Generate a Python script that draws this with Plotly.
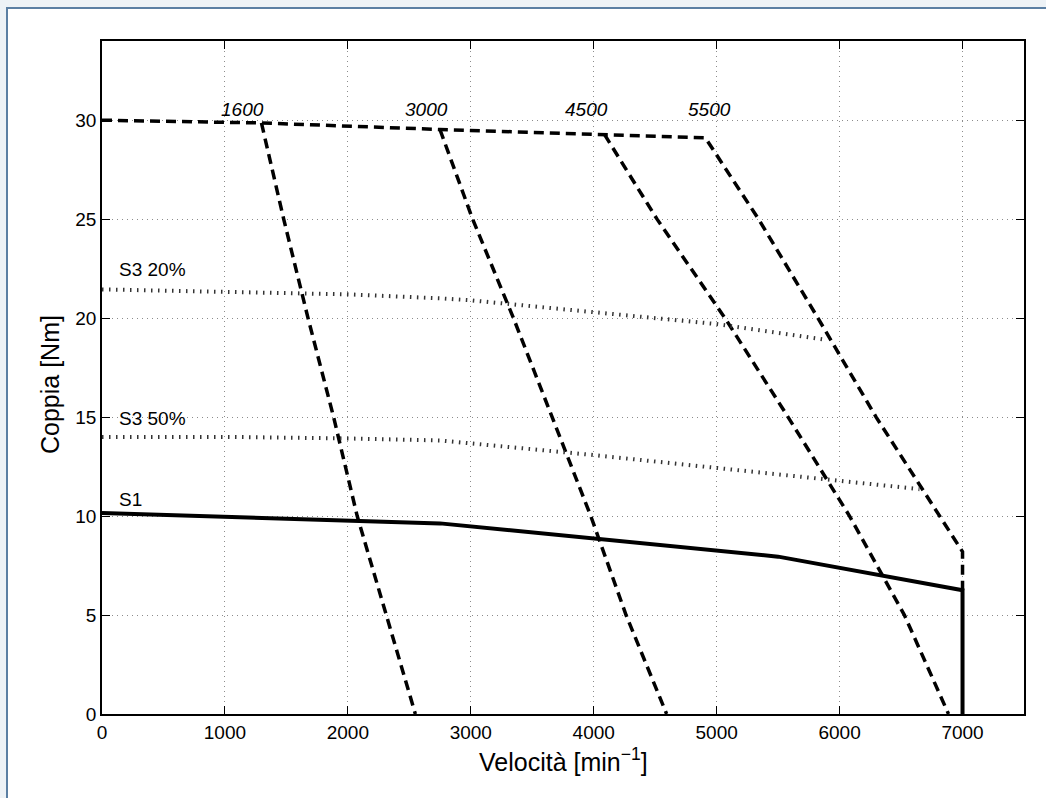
import plotly.graph_objects as go

# ---------------- data ----------------
# Top envelope (dashed): flat part through the knees, then the 5500 curve down to 7000
env_speed = [0, 1297, 2749, 4087, 4908, 5341, 5824, 6297, 6811, 7000, 7000]
env_torque = [30.0, 29.86, 29.53, 29.28, 29.11, 25, 20, 15, 10, 8.2, 6.25]

# Voltage-limit curves (dashed) starting at the knees
c1600_speed = [1297, 1478, 1676, 1884, 2076, 2313, 2549]
c1600_torque = [29.86, 25, 20, 15, 10, 5, 0]
c3000_speed = [2749, 3015, 3347, 3658, 3976, 4263, 4593]
c3000_torque = [29.53, 25, 20, 15, 10, 5, 0]
c4500_speed = [4087, 4515, 5068, 5581, 6081, 6527, 6886]
c4500_torque = [29.28, 25, 20, 15, 10, 5, 0]

# S3 20% (dotted)
s3_20_speed = [0, 1000, 2000, 2750, 3000, 4000, 5000, 5890]
s3_20_torque = [21.45, 21.35, 21.2, 21.0, 20.9, 20.3, 19.7, 18.9]
# S3 50% (dotted)
s3_50_speed = [0, 1000, 2000, 2750, 4000, 5000, 6000, 6650]
s3_50_torque = [14.0, 14.0, 13.92, 13.82, 13.08, 12.44, 11.82, 11.36]
# S1 (solid)
s1_speed = [0, 2750, 5500, 7000, 7000]
s1_torque = [10.15, 9.63, 7.95, 6.25, 0]

# Speed labels on top
speed_labels = ["1600", "3000", "4500", "5500"]
speed_label_x = [1145, 2637, 3940, 4939]
speed_label_y = [30.55, 30.55, 30.55, 30.55]

# Curve labels
curve_labels = ["S3 20%", "S3 50%", "S1"]
curve_label_y = [22.47, 14.95, 10.86]

x_ticks = [0, 1000, 2000, 3000, 4000, 5000, 6000, 7000]
y_ticks = [0, 5, 10, 15, 20, 25, 30]

FONT = "Liberation Sans, Arial, Helvetica, sans-serif"
DASH = "10px,6px"

fig = go.Figure()

for xs, ys in [(env_speed, env_torque), (c1600_speed, c1600_torque),
               (c3000_speed, c3000_torque), (c4500_speed, c4500_torque)]:
    fig.add_trace(go.Scatter(x=xs, y=ys, mode="lines",
                             line=dict(color="black", width=3.5, dash=DASH),
                             showlegend=False, hoverinfo="skip"))

for xs, ys in [(s3_20_speed, s3_20_torque), (s3_50_speed, s3_50_torque)]:
    fig.add_trace(go.Scatter(x=xs, y=ys, mode="lines",
                             line=dict(color="#333333", width=4, dash="1.5px,5.5px"),
                             showlegend=False, hoverinfo="skip"))

fig.add_trace(go.Scatter(x=s1_speed, y=s1_torque, mode="lines",
                         line=dict(color="black", width=4),
                         showlegend=False, hoverinfo="skip"))

annotations = []
for t, x, y in zip(speed_labels, speed_label_x, speed_label_y):
    annotations.append(dict(x=x, y=y, xref="x", yref="y", text=f"<i>{t}</i>",
                            showarrow=False, font=dict(family=FONT, size=19, color="black"),
                            xanchor="center", yanchor="middle"))
for t, y in zip(curve_labels, curve_label_y):
    annotations.append(dict(x=122, y=y, xref="x", yref="y", text=t,
                            showarrow=False, font=dict(family=FONT, size=19, color="black"),
                            xanchor="left", yanchor="middle"))

# axis titles (placed in paper coords; plot area is 102..1024 x 41..714 px)
PW, PH = 922, 673
def px(x):
    return (x - 102) / PW
def py(y):
    return (714 - y) / PH

annotations.append(dict(x=px(563), y=py(760), xref="paper", yref="paper",
                        text="Velocità [min<sup>−1</sup>]", showarrow=False,
                        font=dict(family=FONT, size=25, color="black"),
                        xanchor="center", yanchor="middle"))
annotations.append(dict(x=px(50), y=py(385), xref="paper", yref="paper",
                        text="Coppia [Nm]", showarrow=False, textangle=-90,
                        font=dict(family=FONT, size=25, color="black"),
                        xanchor="center", yanchor="middle"))

shapes = [
    dict(type="rect", xref="paper", yref="paper", layer="below",
         x0=px(7), x1=px(1070), y0=py(820), y1=py(8),
         fillcolor="white", line=dict(color="#5b7fa3", width=2)),
]

axis_common = dict(
    showline=True, linecolor="black", linewidth=1.5, mirror="ticks",
    ticks="inside", ticklen=8, tickwidth=1, tickcolor="black",
    showgrid=True, gridcolor="#8c8c8c", gridwidth=1, griddash="1px,4px",
    zeroline=False, tickfont=dict(family=FONT, size=19, color="black"),
)

fig.update_layout(
    width=1046, height=798,
    margin=dict(l=102, r=22, t=41, b=84),
    paper_bgcolor="#edf2f6", plot_bgcolor="rgba(0,0,0,0)",
    xaxis=dict(range=[0, 7500], tickvals=x_ticks, ticktext=[str(v) for v in x_ticks], **axis_common),
    yaxis=dict(range=[0, 34], tickvals=y_ticks, ticktext=[str(v) for v in y_ticks], **axis_common),
    annotations=annotations, shapes=shapes,
)

fig.write_html(
    "out.html",
    config={"displayModeBar": False},
    post_script="document.body.style.margin='0';document.body.style.overflow='hidden';"
                "document.body.style.background='#edf2f6';",
)
